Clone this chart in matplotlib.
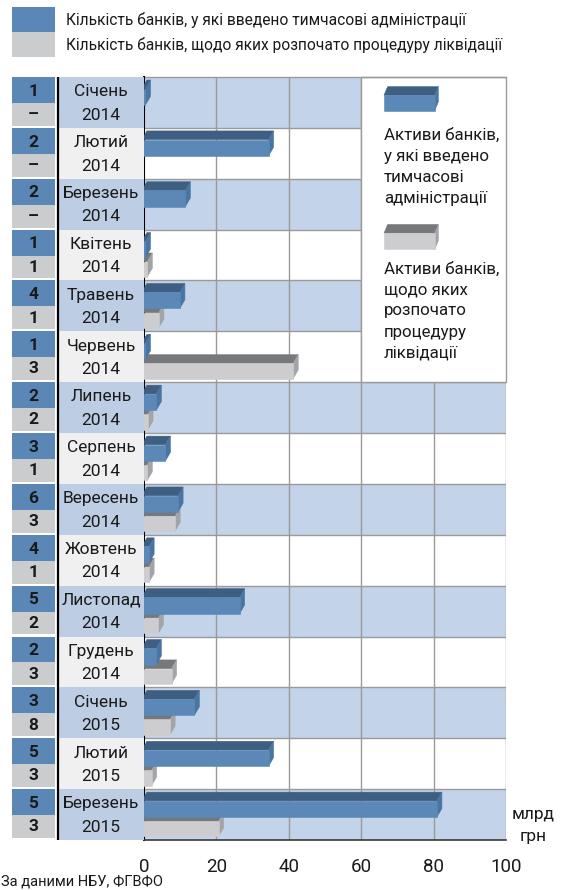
import matplotlib
matplotlib.use("Agg")
import matplotlib.pyplot as plt
from matplotlib.patches import Polygon, Rectangle

plt.rcParams['font.family'] = ['Roboto', 'DejaVu Sans']

months = ["Січень", "Лютий", "Березень", "Квітень", "Травень", "Червень", "Липень",
          "Серпень", "Вересень", "Жовтень", "Листопад", "Грудень", "Січень", "Лютий", "Березень"]
years = ["2014"] * 12 + ["2015"] * 3
n_admin = ["1", "2", "2", "1", "4", "1", "2", "3", "6", "4", "5", "2", "3", "5", "5"]
n_liq = ["–", "–", "–", "1", "1", "3", "2", "1", "3", "1", "2", "3", "8", "3", "3"]
assets_admin = [1, 35, 12, 1, 10.5, 1, 4, 6.5, 10, 2, 27, 4, 14.5, 35, 81.5]
assets_liq = [0, 0, 0, 1.5, 4.7, 41.8, 1.7, 1.5, 9.2, 2, 4.6, 8.2, 7.8, 2.7, 21.2]
xticks = [0, 20, 40, 60, 80, 100]
leg_admin = ["Активи банків,", "у які введено", "тимчасові", "адміністрації"]
leg_liq = ["Активи банків,", "щодо яких", "розпочато", "процедуру", "ліквідації"]

BLUE = ("#5b88b6", "#3e5f82", "#4a75a2")
GRAY = ("#cdcdcf", "#76787c", "#a3a4a7")
ROW_BLUE = "#c3d3e9"
LAB_BLUE = "#bccde4"
LAB_GRAY = "#f0f0f0"
NUM_BLUE = "#5a87b5"
NUM_GRAY = "#cbccce"
GRID = "#9a9a9a"
TXT = "#1a1a1a"

W, H = 563, 890
fig = plt.figure(figsize=(W / 100, H / 100), dpi=100)
nrows = len(months)


def fx(px):
    return px / W


def fy(py):
    return 1 - py / H


ax = fig.add_axes([fx(144), fy(840), fx(506) - fx(144), fy(77) - fy(840)])
ax.set_xlim(0, 100)
ax.set_ylim(nrows, 0)
for s in ["top", "left", "right"]:
    ax.spines[s].set_visible(False)
ax.spines["bottom"].set_color("#3a3a3a")
ax.spines["bottom"].set_linewidth(1.2)
ax.set_yticks([])
ax.set_xticks(xticks)
ax.tick_params(axis="x", length=0, pad=13, labelsize=13.5, labelcolor=TXT)

# row backgrounds (first 6 rows end at 60, legend box on the right)
for i in range(nrows):
    xr = 60 if i < 6 else 100
    if i % 2 == 0:
        ax.add_patch(Rectangle((0, i), xr, 1, facecolor=ROW_BLUE, edgecolor="none", zorder=0))
    if i > 0:
        ax.plot([0, xr], [i, i], color=GRID, lw=1, zorder=1)
for xv in xticks[1:]:
    y0 = 6 if xv > 60 else 0
    ax.plot([xv, xv], [y0, nrows], color=GRID, lw=1, zorder=1)

# legend box
ax.add_patch(Rectangle((60, 0), 40, 6, facecolor="white", edgecolor=GRID, lw=1, zorder=1, clip_on=False))
ax.plot([0, 100], [0, 0], color=GRID, lw=1, zorder=1, clip_on=False)
ax.plot([0, 0], [0, nrows], color="black", lw=1.5, zorder=2, clip_on=False)


def bar3d(y_top, y_bot, x0, x1, cols, dx=1.4, dy=0.17):
    front, top, side = cols
    kw = dict(lw=0.4, zorder=3, clip_on=False)
    ax.add_patch(Polygon([(x0, y_top), (x1, y_top), (x1 + dx, y_top - dy), (x0 + dx, y_top - dy)],
                         facecolor=top, edgecolor=top, **kw))
    ax.add_patch(Polygon([(x1, y_top), (x1 + dx, y_top - dy), (x1 + dx, y_bot - dy), (x1, y_bot)],
                         facecolor=side, edgecolor=side, **kw))
    ax.add_patch(Polygon([(x0, y_top), (x1, y_top), (x1, y_bot), (x0, y_bot)],
                         facecolor=front, edgecolor=front, **kw))


off = 0.6
for i in range(nrows):
    if assets_liq[i] > 0:
        bar3d(i + 0.63, i + 0.93, -off, assets_liq[i] - off, GRAY)
    bar3d(i + 0.23, i + 0.55, -off, assets_admin[i] - off, BLUE)

# legend inside the box
bar3d(0.36, 0.66, 66.3, 80.3, BLUE, dx=1.0, dy=0.17)
bar3d(3.07, 3.39, 66.3, 80.3, GRAY, dx=1.0, dy=0.17)
step = 0.415
for k, line in enumerate(leg_admin):
    ax.text(66.3, 1.14 + k * step, line, ha="left", va="center", fontsize=12.2, color=TXT, zorder=4)
for k, line in enumerate(leg_liq):
    ax.text(66.3, 3.77 + k * step, line, ha="left", va="center", fontsize=12.2, color=TXT, zorder=4)

# table on the left
tb = fig.add_axes([fx(12), fy(840), fx(144) - fx(12), fy(77) - fy(840)])
tb.set_xlim(12, 144)
tb.set_ylim(nrows, 0)
tb.axis("off")
for i in range(nrows):
    tb.add_patch(Rectangle((12, i), 43, 0.51, facecolor=NUM_BLUE, edgecolor="none"))
    tb.add_patch(Rectangle((12, i + 0.51), 43, 0.45, facecolor=NUM_GRAY, edgecolor="none"))
    tb.add_patch(Rectangle((58, i), 86, 1, facecolor=LAB_BLUE if i % 2 == 0 else LAB_GRAY, edgecolor="none"))
    tb.text(33.5, i + 0.28, n_admin[i], ha="center", va="center", fontsize=12.5, fontweight="bold", color=TXT)
    tb.text(33.5, i + 0.74, n_liq[i], ha="center", va="center", fontsize=12.5, fontweight="bold", color=TXT)
    tb.text(101, i + 0.29, months[i], ha="center", va="center", fontsize=12.5, color=TXT)
    tb.text(101, i + 0.75, years[i], ha="center", va="center", fontsize=12.5, color=TXT)
tb.plot([57.5, 57.5], [0, nrows], color="black", lw=1.6)

# top legend
fig.patches.append(Rectangle((fx(12), fy(32)), fx(43), 25 / H, transform=fig.transFigure,
                             facecolor=NUM_BLUE, edgecolor="none"))
fig.patches.append(Rectangle((fx(12), fy(57)), fx(43), 25 / H, transform=fig.transFigure,
                             facecolor=NUM_GRAY, edgecolor="none"))
fig.text(fx(66), fy(20), "Кількість банків, у які введено тимчасові адміністрації",
         ha="left", va="center", fontsize=11.2, color=TXT)
fig.text(fx(66), fy(45), "Кількість банків, щодо яких розпочато процедуру ліквідації",
         ha="left", va="center", fontsize=11.2, color=TXT)

fig.text(fx(533), fy(814), "млрд", ha="center", va="center", fontsize=12.5, color=TXT)
fig.text(fx(533), fy(837), "грн", ha="center", va="center", fontsize=12.5, color=TXT)
fig.text(fx(1), fy(882), "За даними НБУ, ФГВФО", ha="left", va="center", fontsize=10.5, color=TXT)

fig.savefig("out.png", dpi=100)
